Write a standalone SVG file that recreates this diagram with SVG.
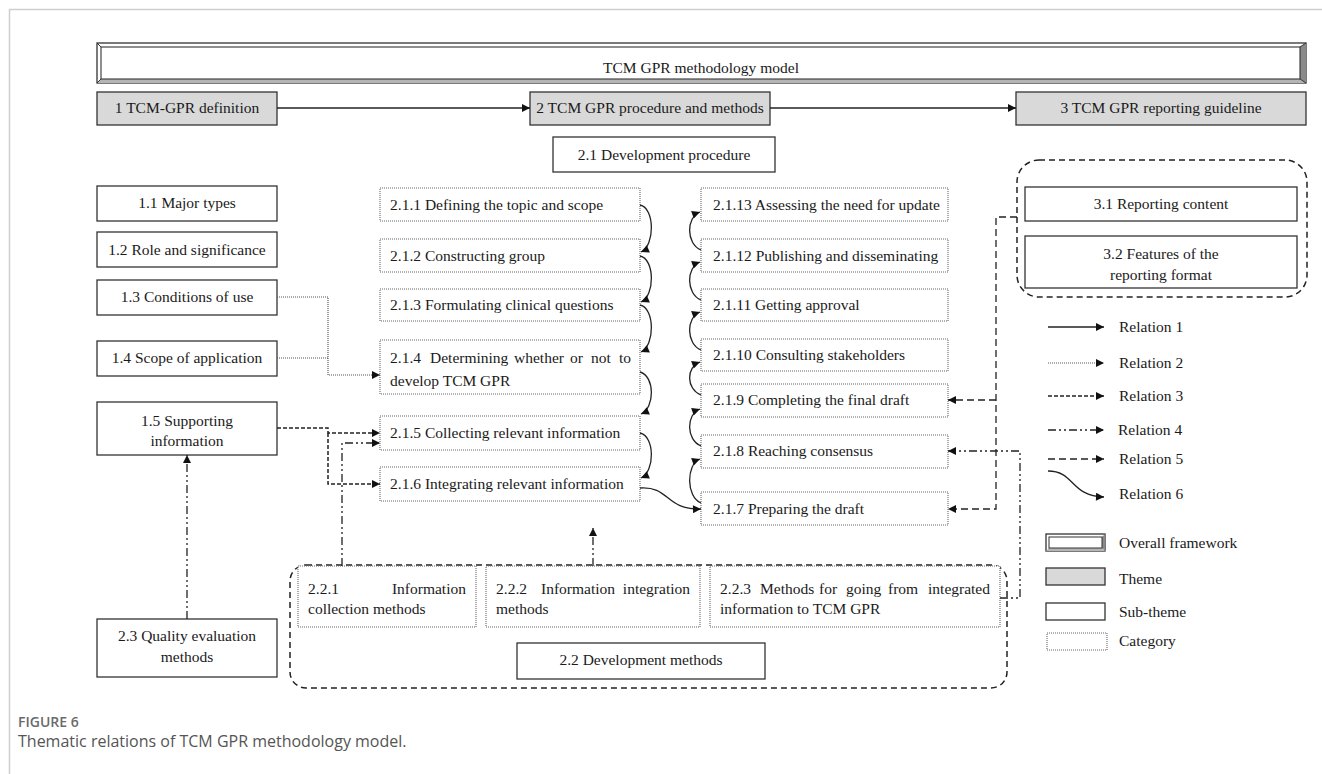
<svg xmlns="http://www.w3.org/2000/svg" width="1322" height="774" viewBox="0 0 1322 774">
  <defs>
    <marker id="arr" viewBox="0 0 10 10" refX="10" refY="5" markerWidth="9" markerHeight="8" markerUnits="userSpaceOnUse" orient="auto">
      <path d="M0,0 L10,5 L0,10 z" fill="#111"/>
    </marker>
    <style>
      .t { font-family: "Liberation Serif", "Times New Roman", serif; font-size: 15.5px; fill: #1a1a1a; }
      .c { text-anchor: middle; }
      .sub { fill: #fff; stroke: #333; stroke-width: 1.3; }
      .theme { fill: #d9d9d9; stroke: #333; stroke-width: 1.3; }
      .cat { fill: #fff; stroke: #666; stroke-width: 1.1; stroke-dasharray: 1 1; }
      .grp { fill: none; stroke: #222; stroke-width: 1.5; stroke-dasharray: 6 4; }
      .r1 { fill: none; stroke: #222; stroke-width: 1.3; }
      .r2 { fill: none; stroke: #555; stroke-width: 1.2; stroke-dasharray: 1 1; }
      .r3 { fill: none; stroke: #222; stroke-width: 1.5; stroke-dasharray: 4 2; }
      .r4 { fill: none; stroke: #222; stroke-width: 1.3; stroke-dasharray: 8 3 2 3 2 3; }
      .r5 { fill: none; stroke: #222; stroke-width: 1.3; stroke-dasharray: 7 4; }
      .r6 { fill: none; stroke: #222; stroke-width: 1.3; }
      .cap { font-family: "Open Sans", "Liberation Sans", sans-serif; }
    </style>
  </defs>

  <!-- page frame lines -->
  <path d="M9.5,774 V9.5 H1322" fill="none" stroke="#cfcfcf" stroke-width="1.5"/>

  <!-- overall framework bar -->
  <g id="framework">
    <rect x="97" y="43" width="1209" height="40" fill="#fff" stroke="#333" stroke-width="1.3"/>
    <polygon points="1306,43 1306,83 1300,79 1300,47" fill="#8a8a8a"/>
    <polygon points="97,83 1306,83 1300,79 101,79" fill="#b5b5b5"/>
    <rect x="101" y="47" width="1199" height="32" fill="none" stroke="#333" stroke-width="1.1"/>
    <path d="M97,43 L101,47 M1306,43 L1300,47 M97,83 L101,79 M1306,83 L1300,79" stroke="#333" stroke-width="1"/>
    <text class="t c" x="701" y="73">TCM GPR methodology model</text>
  </g>

  <!-- themes -->
  <g id="theme1"><rect class="theme" x="97" y="92" width="180" height="33"/><text class="t c" x="187" y="113">1 TCM-GPR definition</text></g>
  <g id="theme2"><rect class="theme" x="530" y="92" width="240" height="33"/><text class="t c" x="650" y="113">2 TCM GPR procedure and methods</text></g>
  <g id="theme3"><rect class="theme" x="1016" y="92" width="290" height="33"/><text class="t c" x="1161" y="113">3 TCM GPR reporting guideline</text></g>

  <!-- sub-themes -->
  <g id="s21"><rect class="sub" x="553" y="137" width="222" height="35"/><text class="t c" x="664" y="160">2.1 Development procedure</text></g>
  <g id="s11"><rect class="sub" x="97" y="186" width="180" height="35"/><text class="t c" x="187" y="208">1.1 Major types</text></g>
  <g id="s12"><rect class="sub" x="97" y="232" width="180" height="35"/><text class="t c" x="187" y="255">1.2 Role and significance</text></g>
  <g id="s13"><rect class="sub" x="97" y="280" width="180" height="35"/><text class="t c" x="187" y="302">1.3 Conditions of use</text></g>
  <g id="s14"><rect class="sub" x="97" y="341" width="180" height="35"/><text class="t c" x="187" y="363">1.4 Scope of application</text></g>
  <g id="s15"><rect class="sub" x="97" y="402" width="180" height="53"/><text class="t c" x="187" y="426">1.5 Supporting</text><text class="t c" x="187" y="446">information</text></g>
  <g id="s23"><rect class="sub" x="97" y="619" width="180" height="58"/><text class="t c" x="187" y="641">2.3 Quality evaluation</text><text class="t c" x="187" y="662">methods</text></g>

  <!-- procedure steps, first half -->
  <g id="c211"><rect class="cat" x="380" y="188" width="260" height="33"/><text class="t" x="390" y="210">2.1.1 Defining the topic and scope</text></g>
  <g id="c212"><rect class="cat" x="380" y="239" width="260" height="33"/><text class="t" x="390" y="261">2.1.2 Constructing group</text></g>
  <g id="c213"><rect class="cat" x="380" y="289" width="260" height="32"/><text class="t" x="390" y="310">2.1.3 Formulating clinical questions</text></g>
  <g id="c214"><rect class="cat" x="380" y="340" width="260" height="54"/>
    <text class="t" y="363"><tspan x="390">2.1.4</tspan><tspan x="430">Determining</tspan><tspan x="514">whether</tspan><tspan x="570">or</tspan><tspan x="591">not</tspan><tspan x="631" text-anchor="end">to</tspan></text>
    <text class="t" x="390" y="386">develop TCM GPR</text></g>
  <g id="c215"><rect class="cat" x="380" y="416" width="260" height="34"/><text class="t" x="390" y="438">2.1.5 Collecting relevant information</text></g>
  <g id="c216"><rect class="cat" x="380" y="467" width="260" height="34"/><text class="t" x="390" y="489">2.1.6 Integrating relevant information</text></g>

  <!-- procedure steps, second half -->
  <g id="c2113"><rect class="cat" x="701" y="188" width="247" height="33"/><text class="t" x="713" y="210">2.1.13 Assessing the need for update</text></g>
  <g id="c2112"><rect class="cat" x="701" y="239" width="247" height="33"/><text class="t" x="713" y="261">2.1.12 Publishing and disseminating</text></g>
  <g id="c2111"><rect class="cat" x="701" y="289" width="247" height="32"/><text class="t" x="713" y="310">2.1.11 Getting approval</text></g>
  <g id="c2110"><rect class="cat" x="701" y="339" width="247" height="32"/><text class="t" x="713" y="360">2.1.10 Consulting stakeholders</text></g>
  <g id="c219"><rect class="cat" x="701" y="384" width="247" height="33"/><text class="t" x="713" y="405">2.1.9 Completing the final draft</text></g>
  <g id="c218"><rect class="cat" x="701" y="435" width="247" height="33"/><text class="t" x="713" y="456">2.1.8 Reaching consensus</text></g>
  <g id="c217"><rect class="cat" x="701" y="492" width="247" height="33"/><text class="t" x="713" y="514">2.1.7 Preparing the draft</text></g>

  <!-- reporting guideline group -->
  <g id="reporting">
    <rect class="grp" x="1017" y="160" width="290" height="137" rx="22"/>
    <g id="s31"><rect class="sub" x="1025" y="187" width="272" height="34"/><text class="t c" x="1161" y="209">3.1 Reporting content</text></g>
    <g id="s32"><rect class="sub" x="1025" y="236" width="272" height="52"/><text class="t c" x="1161" y="259">3.2 Features of the</text><text class="t c" x="1161" y="280">reporting format</text></g>
  </g>

  <!-- development methods group -->
  <g id="methods">
    <rect class="grp" x="290" y="565" width="717" height="123" rx="16"/>
    <g id="c221"><rect class="cat" x="298" y="566" width="178" height="61"/>
      <text class="t" y="594"><tspan x="308">2.2.1</tspan><tspan x="466" text-anchor="end">Information</tspan></text>
      <text class="t" x="308" y="614">collection methods</text></g>
    <g id="c222"><rect class="cat" x="486" y="566" width="214" height="61"/>
      <text class="t" y="594"><tspan x="496">2.2.2</tspan><tspan x="541">Information</tspan><tspan x="690" text-anchor="end">integration</tspan></text>
      <text class="t" x="496" y="614">methods</text></g>
    <g id="c223"><rect class="cat" x="710" y="566" width="290" height="61"/>
      <text class="t" y="594"><tspan x="720">2.2.3</tspan><tspan x="760">Methods</tspan><tspan x="819">for</tspan><tspan x="846">going</tspan><tspan x="888">from</tspan><tspan x="990" text-anchor="end">integrated</tspan></text>
      <text class="t" x="720" y="614">information to TCM GPR</text></g>
    <g id="s22"><rect class="sub" x="517" y="643" width="248" height="36"/><text class="t c" x="641" y="665">2.2 Development methods</text></g>
  </g>

  <!-- connectors -->
  <g id="connectors">
    <!-- relation 1 -->
    <path class="r1" d="M277,108 H530" marker-end="url(#arr)"/>
    <path class="r1" d="M770,108 H1016" marker-end="url(#arr)"/>
    <!-- relation 2 -->
    <path class="r2" d="M277,297 H328 V375 H380" marker-end="url(#arr)"/>
    <path class="r2" d="M277,358 H328"/>
    <!-- relation 3 -->
    <path class="r3" d="M277,428 H328 V433 H380" marker-end="url(#arr)"/>
    <path class="r3" d="M328,433 V484 H380" marker-end="url(#arr)"/>
    <!-- relation 4 -->
    <path class="r4" d="M342,566 V443 H380" marker-end="url(#arr)"/>
    <path class="r4" d="M187,619 V455" marker-end="url(#arr)"/>
    <path class="r4" d="M593,566 V528" marker-end="url(#arr)"/>
    <path class="r4" d="M1000,598 H1020 V451 H948" marker-end="url(#arr)"/>
    <!-- relation 5 -->
    <path class="r5" d="M1017,217 H996 V509 H948" marker-end="url(#arr)"/>
    <path class="r5" d="M996,400 H948" marker-end="url(#arr)"/>
    <!-- relation 6: steps 2.1.1 to 2.1.6 -->
    <path class="r6" d="M640,205 C655,208 655,246 641,252" marker-end="url(#arr)"/>
    <path class="r6" d="M640,256 C655,259 655,296 641,302" marker-end="url(#arr)"/>
    <path class="r6" d="M640,305 C655,308 655,346 641,352" marker-end="url(#arr)"/>
    <path class="r6" d="M640,372 C655,376 655,408 641,414" marker-end="url(#arr)"/>
    <path class="r6" d="M640,433 C655,436 655,472 641,478" marker-end="url(#arr)"/>
    <!-- relation 6: 2.1.6 to 2.1.7 -->
    <path class="r6" d="M640,488 C670,486 665,510 701,509" marker-end="url(#arr)"/>
    <!-- relation 6: steps 2.1.7 to 2.1.13 -->
    <path class="r6" d="M701,503 C686,497 686,464 700,459" marker-end="url(#arr)"/>
    <path class="r6" d="M701,446 C686,440 686,414 700,409" marker-end="url(#arr)"/>
    <path class="r6" d="M701,395 C686,389 686,367 700,362" marker-end="url(#arr)"/>
    <path class="r6" d="M701,350 C686,344 686,317 700,312" marker-end="url(#arr)"/>
    <path class="r6" d="M701,300 C686,294 686,267 700,262" marker-end="url(#arr)"/>
    <path class="r6" d="M701,250 C686,244 686,217 700,212" marker-end="url(#arr)"/>
  </g>

  <!-- legend -->
  <g id="legend">
    <path class="r1" d="M1048,327 H1104" marker-end="url(#arr)"/>
    <text class="t" x="1119" y="332">Relation 1</text>
    <path class="r2" d="M1048,363 H1104" marker-end="url(#arr)"/>
    <text class="t" x="1119" y="368">Relation 2</text>
    <path class="r3" d="M1048,396 H1104" marker-end="url(#arr)"/>
    <text class="t" x="1119" y="401">Relation 3</text>
    <path class="r4" d="M1048,430 H1104" marker-end="url(#arr)"/>
    <text class="t" x="1118" y="435">Relation 4</text>
    <path class="r5" d="M1048,459 H1104" marker-end="url(#arr)"/>
    <text class="t" x="1119" y="464">Relation 5</text>
    <path class="r6" d="M1048,471 C1075,471 1070,496 1104,497" marker-end="url(#arr)"/>
    <text class="t" x="1119" y="499">Relation 6</text>

    <rect x="1046" y="534" width="59" height="17" fill="#fff" stroke="#333" stroke-width="1.3"/>
    <polygon points="1105,534 1105,551 1102,548 1102,537" fill="#8a8a8a"/>
    <polygon points="1046,551 1105,551 1102,548 1049,548" fill="#b5b5b5"/>
    <rect x="1049" y="537" width="53" height="11" fill="none" stroke="#333" stroke-width="1"/>
    <text class="t" x="1119" y="548">Overall framework</text>

    <rect class="theme" x="1046" y="568" width="59" height="17"/>
    <text class="t" x="1119" y="584">Theme</text>
    <rect class="sub" x="1046" y="603" width="59" height="17"/>
    <text class="t" x="1119" y="617">Sub-theme</text>
    <rect class="cat" x="1047" y="633" width="60" height="17"/>
    <text class="t" x="1119" y="646">Category</text>
  </g>

  <!-- caption -->
  <text class="cap" x="18" y="727" font-size="14" font-weight="600" fill="#6a6a6a">FIGURE 6</text>
  <text class="cap" x="18" y="747" font-size="16" fill="#555">Thematic relations of TCM GPR methodology model.</text>
</svg>
